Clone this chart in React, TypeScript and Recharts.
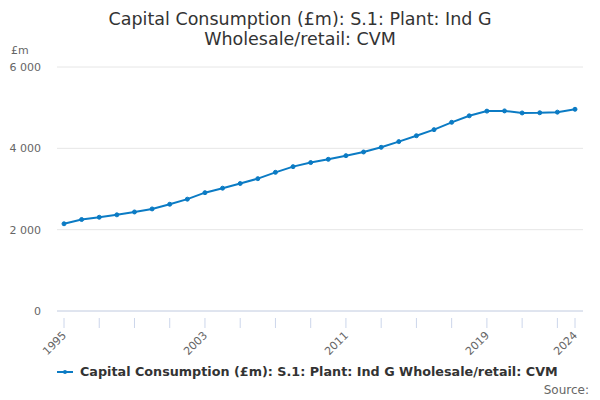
import { LineChart, Line, XAxis, YAxis, CartesianGrid } from 'recharts'

const years = [
  1995, 1996, 1997, 1998, 1999, 2000, 2001, 2002, 2003, 2004, 2005, 2006, 2007, 2008, 2009,
  2010, 2011, 2012, 2013, 2014, 2015, 2016, 2017, 2018, 2019, 2020, 2021, 2022, 2023, 2024,
]
const values = [
  2145, 2250, 2305, 2365, 2435, 2510, 2625, 2750, 2910, 3020, 3135, 3255, 3410, 3550, 3650,
  3730, 3820, 3910, 4025, 4165, 4310, 4460, 4640, 4800, 4915, 4920, 4870, 4875, 4890, 4960,
]
const xTicks = [1995, 1997, 1999, 2001, 2003, 2005, 2007, 2009, 2011, 2013, 2015, 2017, 2019, 2021, 2023, 2024]
const xLabels = [1995, 2003, 2011, 2019, 2024]
const yTicks = [0, 2000, 4000, 6000]

const TITLE = ['Capital Consumption (£m): S.1: Plant: Ind G', 'Wholesale/retail: CVM']
const SERIES = 'Capital Consumption (£m): S.1: Plant: Ind G Wholesale/retail: CVM'
const LINE_COLOR = '#0b7bc4'
const FONT = '"DejaVu Sans", Verdana, sans-serif'

const data = years.map((year, i) => ({ year, value: values[i] }))

const fmt = (v: number) => v.toLocaleString('en-US').replace(/,/g, ' ')

const XTick = ({ x, y, payload }: { x?: number; y?: number; payload?: { value: number } }) => {
  const v = payload?.value ?? 0
  return (
    <g transform={`translate(${x},${y})`}>
      <line x1={0} y1={-1} x2={0} y2={9} stroke="#ccd6eb" strokeWidth={1} />
      {xLabels.includes(v) && (
        <text textAnchor="end" transform="translate(3,17) rotate(-45)" fill="#666" fontSize={11} fontFamily={FONT}>
          {v}
        </text>
      )}
    </g>
  )
}

export default function App() {
  return (
    <div style={{ position: 'absolute', left: 0, top: 0, width: 600, height: 400, background: '#fff', fontFamily: FONT }}>
      <div style={{ position: 'absolute', top: 9, left: 0, width: 600, textAlign: 'center', fontSize: 17.5, lineHeight: '20px', color: '#333' }}>
        {TITLE.map((t) => (
          <div key={t}>{t}</div>
        ))}
      </div>
      <div style={{ position: 'absolute', left: 11, top: 44, fontSize: 11, color: '#666' }}>£m</div>
      <div style={{ position: 'absolute', top: 0, left: 0 }}>
        <LineChart width={600} height={400} data={data} margin={{ top: 67, right: 17, bottom: 0, left: 0 }}>
          <CartesianGrid vertical={false} stroke="#e6e6e6" />
          <XAxis
            dataKey="year"
            type="number"
            domain={[1995, 2024]}
            ticks={xTicks}
            interval={0}
            padding={{ left: 7, right: 8 }}
            axisLine={{ stroke: '#ccd6eb' }}
            tickLine={false}
            tick={<XTick />}
            height={89}
          />
          <YAxis
            domain={[0, 6000]}
            ticks={yTicks}
            tickFormatter={fmt}
            axisLine={false}
            tickLine={false}
            tickSize={0}
            tickMargin={16}
            width={57}
            tick={{ fill: '#666', fontSize: 11, fontFamily: FONT }}
          />
          <Line
            type="linear"
            dataKey="value"
            stroke={LINE_COLOR}
            strokeWidth={2}
            dot={{ r: 2, fill: LINE_COLOR, stroke: LINE_COLOR, strokeWidth: 1 }}
            isAnimationActive={false}
          />
        </LineChart>
      </div>
      <div style={{ position: 'absolute', left: 57, top: 364, display: 'flex', alignItems: 'center', gap: 7 }}>
        <svg width={16} height={10}>
          <line x1={0} y1={5} x2={16} y2={5} stroke={LINE_COLOR} strokeWidth={2} />
          <circle cx={8} cy={5} r={2} fill={LINE_COLOR} />
        </svg>
        <span style={{ fontSize: 12.75, fontWeight: 'bold', color: '#333' }}>{SERIES}</span>
      </div>
      <div style={{ position: 'absolute', right: 11, top: 383, fontSize: 12, color: '#666' }}>Source:</div>
    </div>
  )
}
